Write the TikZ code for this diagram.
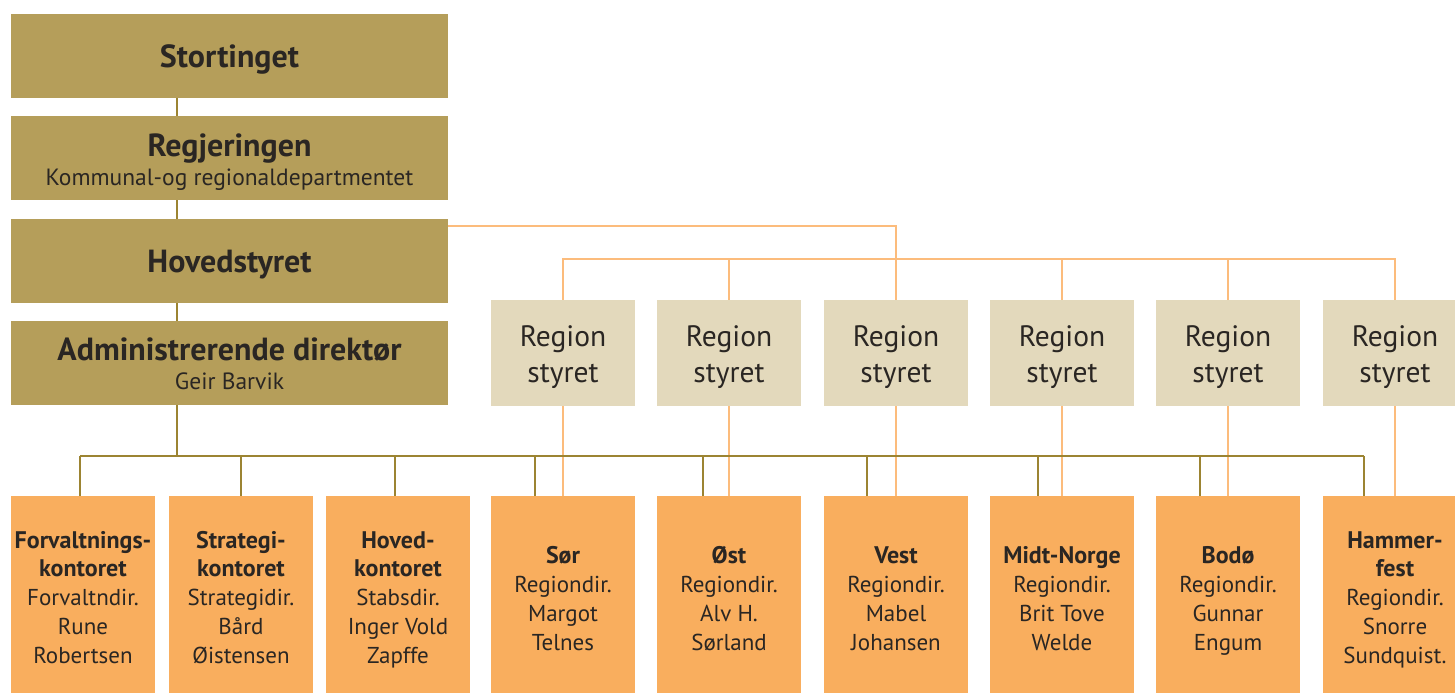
\documentclass[tikz,border=0pt]{standalone}
\usepackage{fontspec}
\setmainfont{PT Sans}
\definecolor{gold}{HTML}{B59E5A}
\definecolor{goldline}{HTML}{9C8432}
\definecolor{beige}{HTML}{E3D9BC}
\definecolor{orangebox}{HTML}{F9AE5E}
\definecolor{orangeline}{HTML}{FCBC7C}
\definecolor{ink}{HTML}{2A2623}
\tikzset{
 topbox/.style={fill=gold, minimum width=437pt, minimum height=84pt, inner sep=0pt, text=ink, align=center, text depth=0pt, font=\fontsize{23.5}{29}\selectfont},
 regbox/.style={fill=beige, minimum width=144pt, minimum height=106pt, inner sep=0pt, text=ink, align=center, font=\fontsize{29.5}{36}\selectfont, text height=58pt, text depth=0pt},
 unitbox/.style={fill=orangebox, minimum width=144pt, minimum height=197pt, inner sep=0pt, text=ink, align=center, font=\fontsize{23}{28.7}\selectfont, text depth=0pt},
 four/.style={text height=111pt},
 five/.style={text height=137pt},
 gline/.style={draw=goldline, line width=1.5pt},
 oline/.style={draw=orangeline, line width=1.5pt},
}
\newcommand{\ttl}[1]{{\bfseries\fontsize{32}{29}\selectfont #1}}
\newcommand{\ub}[1]{{\bfseries\fontsize{24}{28.7}\selectfont #1}}
\begin{document}
\begin{tikzpicture}[x=1pt,y=-1pt]
\clip (0,0) rectangle (1455,693);
\coordinate (spine) at (177,0);
% left column
\node[topbox, text height=22pt] (stort) at (229.5,56) {\ttl{Stortinget}};
\node[topbox, text height=54pt] (regj) at (229.5,158) {\ttl{Regjeringen}\\Kommunal-og regionaldepartmentet};
\node[topbox, text height=22pt] (hoved) at (229.5,261) {\ttl{Hovedstyret}};
\node[topbox, text height=52pt] (admin) at (229.5,363) {\ttl{Administrerende direktør}\\Geir Barvik};
% region boards
\node[regbox] (r1) at (563,353) {Region\\styret};
\node[regbox] (r2) at (729,353) {Region\\styret};
\node[regbox] (r3) at (896,353) {Region\\styret};
\node[regbox] (r4) at (1062,353) {Region\\styret};
\node[regbox] (r5) at (1228,353) {Region\\styret};
\node[regbox] (r6) at (1395,353) {Region\\styret};
% units
\node[unitbox, five] (u1) at (83,594.5) {\ub{Forvaltnings-}\\\ub{kontoret}\\Forvaltndir.\\Rune\\Robertsen};
\node[unitbox, five] (u2) at (241,594.5) {\ub{Strategi-}\\\ub{kontoret}\\Strategidir.\\Bård\\Øistensen};
\node[unitbox, five] (u3) at (398,594.5) {\ub{Hoved-}\\\ub{kontoret}\\Stabsdir.\\Inger Vold\\Zapffe};
\node[unitbox, four] (u4) at (563,594.5) {\ub{Sør}\\Regiondir.\\Margot\\Telnes};
\node[unitbox, four] (u5) at (729,594.5) {\ub{Øst}\\Regiondir.\\Alv H.\\Sørland};
\node[unitbox, four] (u6) at (896,594.5) {\ub{Vest}\\Regiondir.\\Mabel\\Johansen};
\node[unitbox, four] (u7) at (1062,594.5) {\ub{Midt-Norge}\\Regiondir.\\Brit Tove\\Welde};
\node[unitbox, four] (u8) at (1228,594.5) {\ub{Bodø}\\Regiondir.\\Gunnar\\Engum};
\node[unitbox, five] (u9) at (1395,594.5) {\ub{Hammer-}\\\ub{fest}\\Regiondir.\\Snorre\\Sundquist.};
% orange connectors
\draw[oline] ([yshift=35pt]hoved.east) -| (r3.north);
\draw[oline] (r1.north) |- ([yshift=41pt]r6.north) -- (r6.north);
\foreach \r in {r2,r4,r5}{\draw[oline] (\r.north) -- ([yshift=41pt]\r.north);}
\draw[oline] (r1.south) -- (u4.north);
\draw[oline] (r2.south) -- (u5.north);
\draw[oline] (r3.south) -- (u6.north);
\draw[oline] (r4.south) -- (u7.north);
\draw[oline] (r5.south) -- (u8.north);
\draw[oline] (r6.south) -- (u9.north);
% gold connectors
\draw[gline] (stort.south -| spine) -- (regj.north -| spine);
\draw[gline] (regj.south -| spine) -- (hoved.north -| spine);
\draw[gline] (hoved.south -| spine) -- (admin.north -| spine);
\coordinate (busL) at (80,456);
\coordinate (busR) at (1364,456);
\draw[gline] (admin.south -| spine) -- (spine |- busL);
\draw[gline] (busL) -- (busR);
\draw[gline] ([xshift=-3pt]u1.north) -- ([xshift=-3pt]u1.north |- busL);
\draw[gline] (u2.north) -- (u2.north |- busL);
\draw[gline] ([xshift=-3pt]u3.north) -- ([xshift=-3pt]u3.north |- busL);
\draw[gline] ([xshift=-28pt]u4.north) -- ([xshift=-28pt]u4.north |- busL);
\draw[gline] ([xshift=-26pt]u5.north) -- ([xshift=-26pt]u5.north |- busL);
\draw[gline] ([xshift=-29pt]u6.north) -- ([xshift=-29pt]u6.north |- busL);
\draw[gline] ([xshift=-24pt]u7.north) -- ([xshift=-24pt]u7.north |- busL);
\draw[gline] ([xshift=-28pt]u8.north) -- ([xshift=-28pt]u8.north |- busL);
\draw[gline] ([xshift=-31pt]u9.north) -- ([xshift=-31pt]u9.north |- busL);
\end{tikzpicture}
\end{document}
